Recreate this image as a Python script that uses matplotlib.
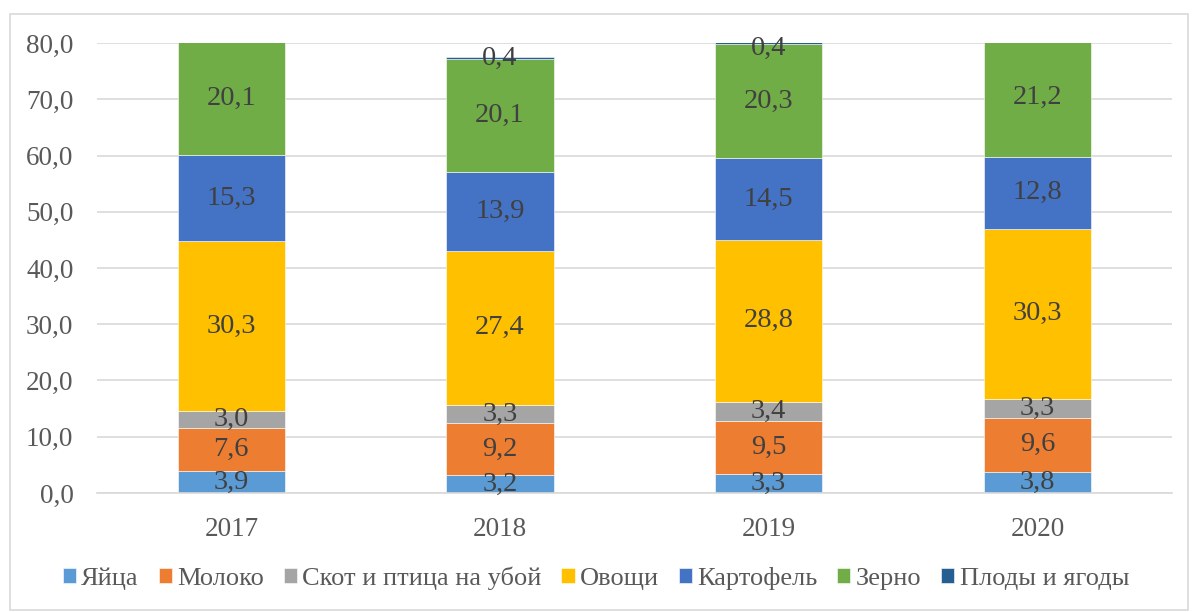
import matplotlib.pyplot as plt
from matplotlib.patches import Rectangle
import numpy as np

years = ["2017", "2018", "2019", "2020"]
series = ["Яйца", "Молоко", "Скот и птица на убой", "Овощи", "Картофель", "Зерно", "Плоды и ягоды"]
eggs = [3.9, 3.2, 3.3, 3.8]
milk = [7.6, 9.2, 9.5, 9.6]
livestock = [3.0, 3.3, 3.4, 3.3]
vegetables = [30.3, 27.4, 28.8, 30.3]
potatoes = [15.3, 13.9, 14.5, 12.8]
grain = [20.1, 20.1, 20.3, 21.2]
fruits = [0.0, 0.4, 0.4, 0.0]

colors = ["#5B9BD5", "#ED7D31", "#A5A5A5", "#FFC000", "#4472C4", "#70AD47", "#255E91"]

plt.rcParams["font.family"] = ["Liberation Serif", "DejaVu Serif"]

fig = plt.figure(figsize=(11.92, 6.12), dpi=100)
ax = fig.add_axes([0.0814, 0.1945, 0.9016, 0.7352])

# chart frame
fig.patches.append(Rectangle((10 / 1192, 2 / 612), 1178 / 1192, 596 / 612,
                             transform=fig.transFigure, fill=False,
                             edgecolor="#D9D9D9", linewidth=1.2))

x = np.arange(len(years))
bottom = np.zeros(len(years))
for name, vals, col in zip(series, [eggs, milk, livestock, vegetables, potatoes, grain, fruits], colors):
    vals = np.array(vals)
    ax.bar(x, vals, 0.4, bottom=bottom, color=col, label=name,
           edgecolor="white", linewidth=0.4, zorder=2)
    for xi, b, v in zip(x, bottom, vals):
        if v > 0:
            ax.text(xi, min(b + v / 2, 79.0), f"{v:.1f}".replace(".", ","),
                    ha="center", va="center", fontsize=20.5, color="#404040", zorder=3)
    bottom += vals

ax.set_xlim(-0.5, 3.5)
ax.set_ylim(0, 80)
ax.set_yticks(np.arange(0, 81, 10))
ax.set_yticklabels([f"{t:.1f}".replace(".", ",") for t in np.arange(0, 81, 10)])
ax.set_xticks(x)
ax.set_xticklabels(years)
ax.yaxis.grid(True, color="#D9D9D9", linewidth=1.2, zorder=0)
ax.set_axisbelow(True)
for s in ax.spines.values():
    s.set_visible(False)
ax.spines["bottom"].set_visible(True)
ax.spines["bottom"].set_color("#D9D9D9")
ax.spines["bottom"].set_linewidth(1.2)
ax.tick_params(axis="both", length=0, labelsize=19.5, colors="#595959")
ax.tick_params(axis="x", pad=17)
ax.tick_params(axis="y", pad=17)

ax.legend(loc="center", bbox_to_anchor=(0.5, 0.055), bbox_transform=fig.transFigure,
          ncol=7, frameon=False, fontsize=19, handlelength=0.5, handleheight=0.5,
          handletextpad=0.2, columnspacing=0.75, labelcolor="#595959")

fig.savefig("out.png", dpi=100, facecolor="white")
